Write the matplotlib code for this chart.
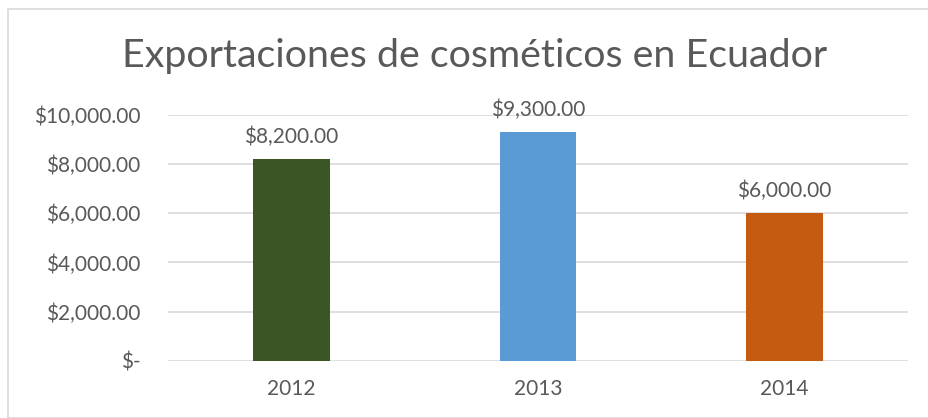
import matplotlib
matplotlib.use("Agg")
import matplotlib.pyplot as plt
from matplotlib.patches import Rectangle

categories = ["2012", "2013", "2014"]
values = [8200, 9300, 6000]
colors = ["#3B5524", "#5B9BD5", "#C55A11"]
yticks = [0, 2000, 4000, 6000, 8000, 10000]

def money(v):
    return "$-" if v == 0 else f"${v:,.2f}"

plt.rcParams['font.family'] = ['Lato', 'DejaVu Sans']
text_color = "#595959"

fig = plt.figure(figsize=(9.29, 4.18), dpi=100)
fig.patches.append(Rectangle((8/929, 0), 1.2, 1 - 9/418, transform=fig.transFigure,
                             fill=False, edgecolor="#D9D9D9", linewidth=1.2))
ax = fig.add_axes([168/929, 1 - 360.7/418, (908-168)/929, (360.7-115)/418])

x = list(range(len(categories)))
bars = ax.bar(x, values, width=0.31, color=colors, zorder=3)
for xi, v in zip(x, values):
    ax.annotate(money(v), (xi, v), xytext=(0, 9), textcoords="offset points",
                ha="center", va="bottom", fontsize=15, color=text_color, annotation_clip=False)

ax.set_xlim(-0.5, 2.5)
ax.set_ylim(0, 10000)
ax.set_yticks(yticks)
ax.set_yticklabels([money(v) for v in yticks])
ax.set_xticks(x)
ax.set_xticklabels(categories)
ax.tick_params(axis='y', length=0, pad=20, labelsize=15, labelcolor=text_color)
ax.tick_params(axis='x', length=0, pad=13, labelsize=15, labelcolor=text_color)
ax.grid(axis='y', color="#D9D9D9", linewidth=1.2, zorder=0)
for s in ax.spines.values():
    s.set_visible(False)

fig.text(0.5 * (123 + 826) / 929, 1 - 56/418, "Exportaciones de cosméticos en Ecuador",
         ha="center", va="center", fontsize=28.4, color=text_color)

fig.savefig("out.png", dpi=100)
